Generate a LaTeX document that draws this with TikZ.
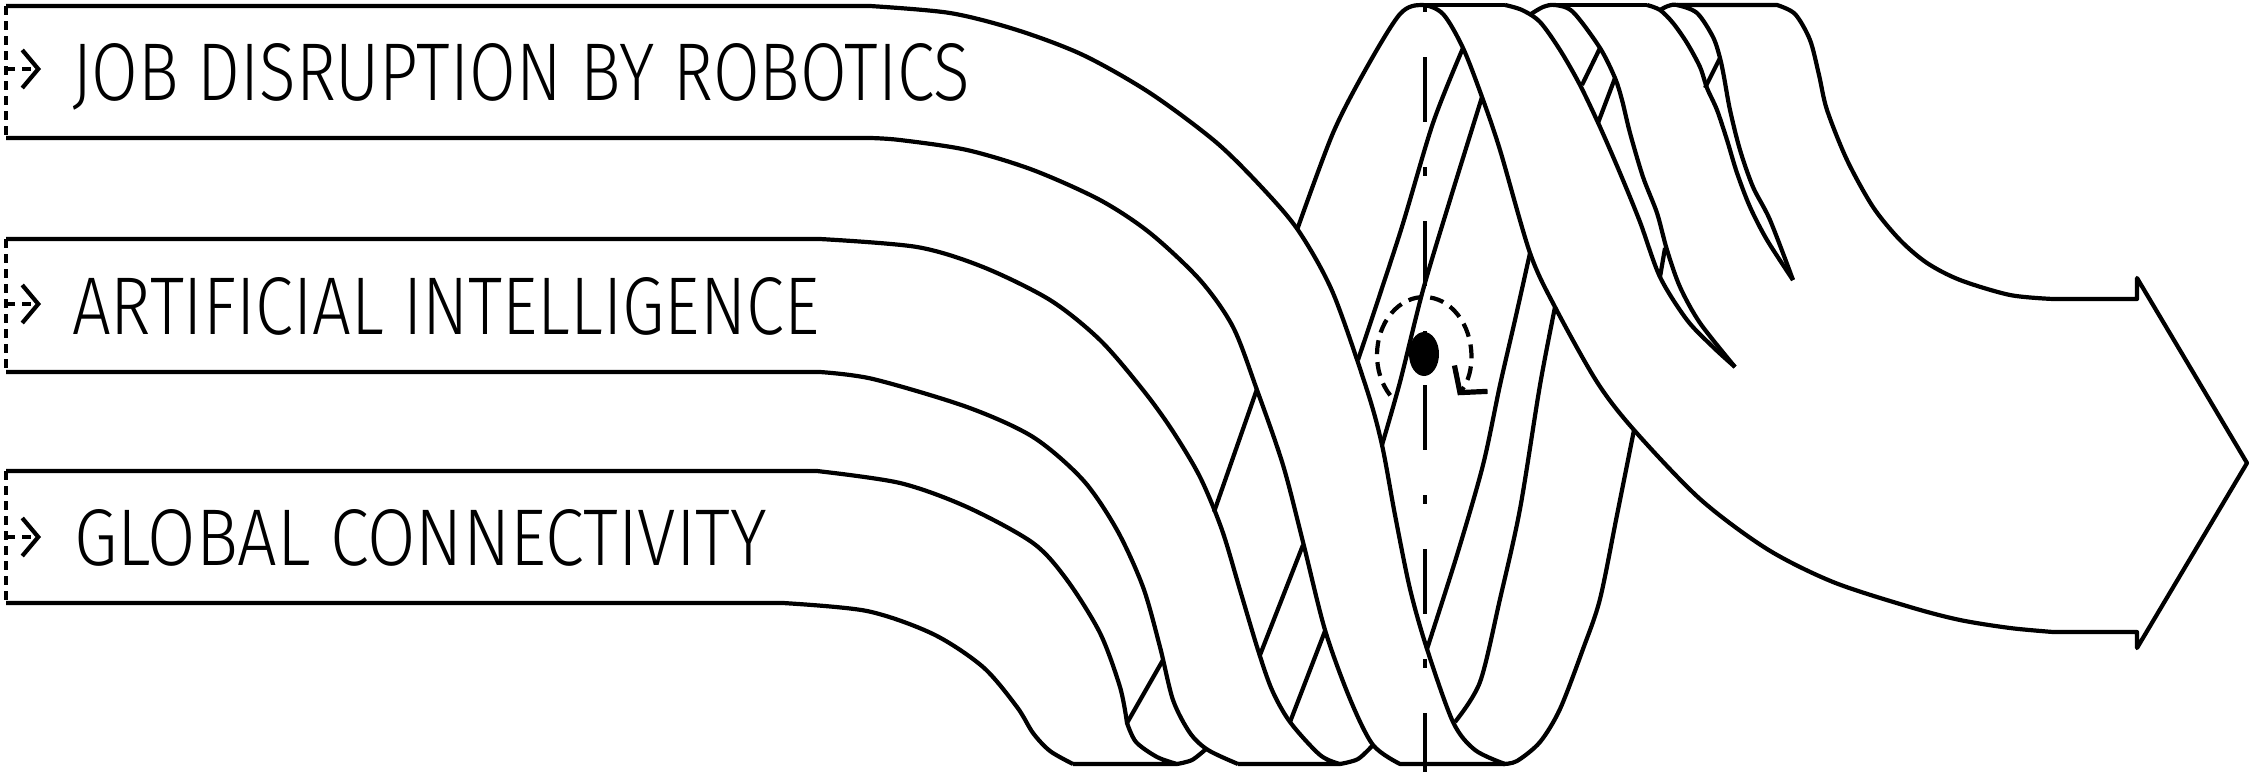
\documentclass[tikz,border=0pt]{standalone}
\usepackage{fontspec}
\usepackage{graphicx}
\usepackage{tikz}
\usetikzlibrary{arrows.meta}
\IfFontExistsTF{Fira Sans Light}{\newfontfamily\bandfont{Fira Sans Light}}{\newfontfamily\bandfont{Fira Sans}}

\begin{document}
\begin{tikzpicture}[x=0.5pt, y=-0.5pt, line width=2.1pt, line join=round,
    rim/.style={dash pattern=on 4.5pt off 3pt},
    feed/.style={dash pattern=on 4.5pt off 3.5pt, -{Straight Barb[length=8pt,width=19pt]}},
    axisline/.style={dash pattern=on 32.5pt off 22.5pt on 4.5pt off 22.5pt, dash phase=53.5pt},
    spin/.style={dash pattern=on 7pt off 4pt, -{Straight Barb[length=9pt,width=21pt,line width=2.6pt]}},
    bandtext/.style={anchor=base west, inner sep=0pt}]
    \fill[white] (0,0) rectangle (2260,772);
    \useasboundingbox (0,0) rectangle (2260,772);

    \node[bandtext] (robotics) at (70,100) {\resizebox{449pt}{28.5pt}{\bandfont JOB DISRUPTION BY ROBOTICS}};
    \node[bandtext] (ai) at (70,334) {\resizebox{373.5pt}{28.5pt}{\bandfont ARTIFICIAL INTELLIGENCE}};
    \node[bandtext] (connect) at (72,565) {\resizebox{346.5pt}{28pt}{\bandfont GLOBAL CONNECTIVITY}};

    \draw[rim] (6,6) -- (6,138);
    \draw[rim] (6,239) -- (6,372);
    \draw[rim] (6,471) -- (6,603);
    \draw[feed] (6,69) -- (41,69);
    \draw[feed] (6,304) -- (41,304);
    \draw[feed] (6,537) -- (41,537);

    \draw (6,6) -- plot[smooth] coordinates {(870,6) (950,13) (1017,30) (1083,55) (1150,93) (1217,143) (1267,193) (1300,233) (1333,293) (1367,390) (1382,445) (1395,515) (1410,589) (1427,649) (1453,722) (1475,750) (1505,764)};
    \draw (6,138) -- plot[smooth] coordinates {(870,138) (900,140) (967,150) (1033,170) (1100,200) (1150,233) (1200,280) (1233,327) (1257,390) (1283,465) (1303,542) (1325,630) (1350,699) (1373,745) (1400,764)} -- (1505,764);
    \draw (6,239) -- plot[smooth] coordinates {(820,239) (917,247) (983,267) (1050,300) (1100,340) (1143,390) (1172,430) (1200,477) (1222,530) (1240,590) (1258,650) (1272,690) (1290,722) (1320,755) (1340,764)} -- (1238,764);
    \draw (6,372) -- plot[smooth] coordinates {(820,372) (873,379) (967,407) (1033,437) (1083,480) (1117,530) (1143,587) (1160,647) (1173,700) (1190,733) (1208,750) (1238,764)};
    \draw (6,471) -- plot[smooth] coordinates {(817,471) (900,483) (967,507) (1033,543) (1067,580) (1100,633) (1120,687) (1127,723)} -- plot[smooth] coordinates {(1127,723) (1136,742) (1157,757) (1177,764)} -- (1073,764);
    \draw (6,603) -- plot[smooth] coordinates {(783,603) (867,611) (933,634) (983,667) (1017,707) (1033,733) (1050,751) (1073,764)};

    \draw (1127,723) -- (1163,660);
    \draw plot[smooth] coordinates {(1177,764) (1192,760) (1206,749)};
    \draw (1257,389) -- (1214,512);
    \draw (1303,545) -- (1260,655);
    \draw (1325,631) -- (1290,722);
    \draw plot[smooth] coordinates {(1340,764) (1358,759) (1373,745)};

    \draw plot[smooth] coordinates {(1297,230) (1333,133) (1367,67) (1400,14) (1422,5) (1443,14) (1463,48) (1482,97) (1500,150) (1530,253) (1555,307) (1597,382) (1634,430) (1700,499) (1767,549) (1833,582) (1910,607) (1960,620) (2010,628) (2053,632)} -- (2137,632) -- (2137,648) -- (2247,463) -- (2137,278) -- (2137,299) -- (2053,299) -- plot[smooth] coordinates {(2053,299) (2010,295) (1960,280) (1927,263) (1900,240) (1873,207) (1847,160) (1827,110) (1819,75) (1810,40) (1795,14) (1777,5)} -- (1677,5);
    \draw (1422,5) -- (1505,5);
    \draw (1555,5) -- (1647,5);
    \draw plot[smooth] coordinates {(1463,48) (1433,123) (1400,233) (1358,360)};
    \draw plot[smooth] coordinates {(1482,97) (1450,200) (1423,290) (1400,382) (1382,445)};
    \draw plot[smooth] coordinates {(1530,253) (1515,320) (1500,385) (1483,465) (1457,555) (1427,649)};
    \draw plot[smooth] coordinates {(1555,307) (1540,385) (1520,509) (1500,599) (1480,682) (1455,722)};
    \draw plot[smooth] coordinates {(1634,430) (1617,515) (1600,599) (1583,649) (1560,709) (1540,742) (1517,761) (1503,764)};

    \draw plot[smooth] coordinates {(1505,5) (1522,10) (1540,22) (1560,50) (1580,85) (1600,127) (1620,173) (1640,222) (1660,277) (1687,320) (1713,347) (1735,367)};
    \draw plot[smooth] coordinates {(1531,14) (1543,7) (1555,5) (1573,12) (1600,48) (1615,78) (1622,100) (1630,133) (1643,177) (1657,213) (1667,250) (1680,287) (1700,323) (1735,367)};
    \draw (1582,85) -- (1600,48) (1598,123) -- (1615,78) (1660,277) -- (1665,248);
    \draw plot[smooth] coordinates {(1647,5) (1660,10) (1673,23) (1687,43) (1700,67) (1707,88) (1717,110) (1727,140) (1737,173) (1750,207) (1767,240) (1793,280)};
    \draw plot[smooth] coordinates {(1660,10) (1668,6) (1677,5) (1697,13) (1713,37) (1720,58) (1724,77) (1730,110) (1740,150) (1753,187) (1770,220) (1793,280)};
    \draw (1705,88) -- (1720,58);

    \draw[axisline] (1425,0) -- (1425,772);
    \draw[spin] (1424,355) ++(136:47 and 58) arc[start angle=136, end angle=404, x radius=47, y radius=58];
    \fill (1424,354) ellipse[x radius=15, y radius=22];
\end{tikzpicture}
\end{document}
